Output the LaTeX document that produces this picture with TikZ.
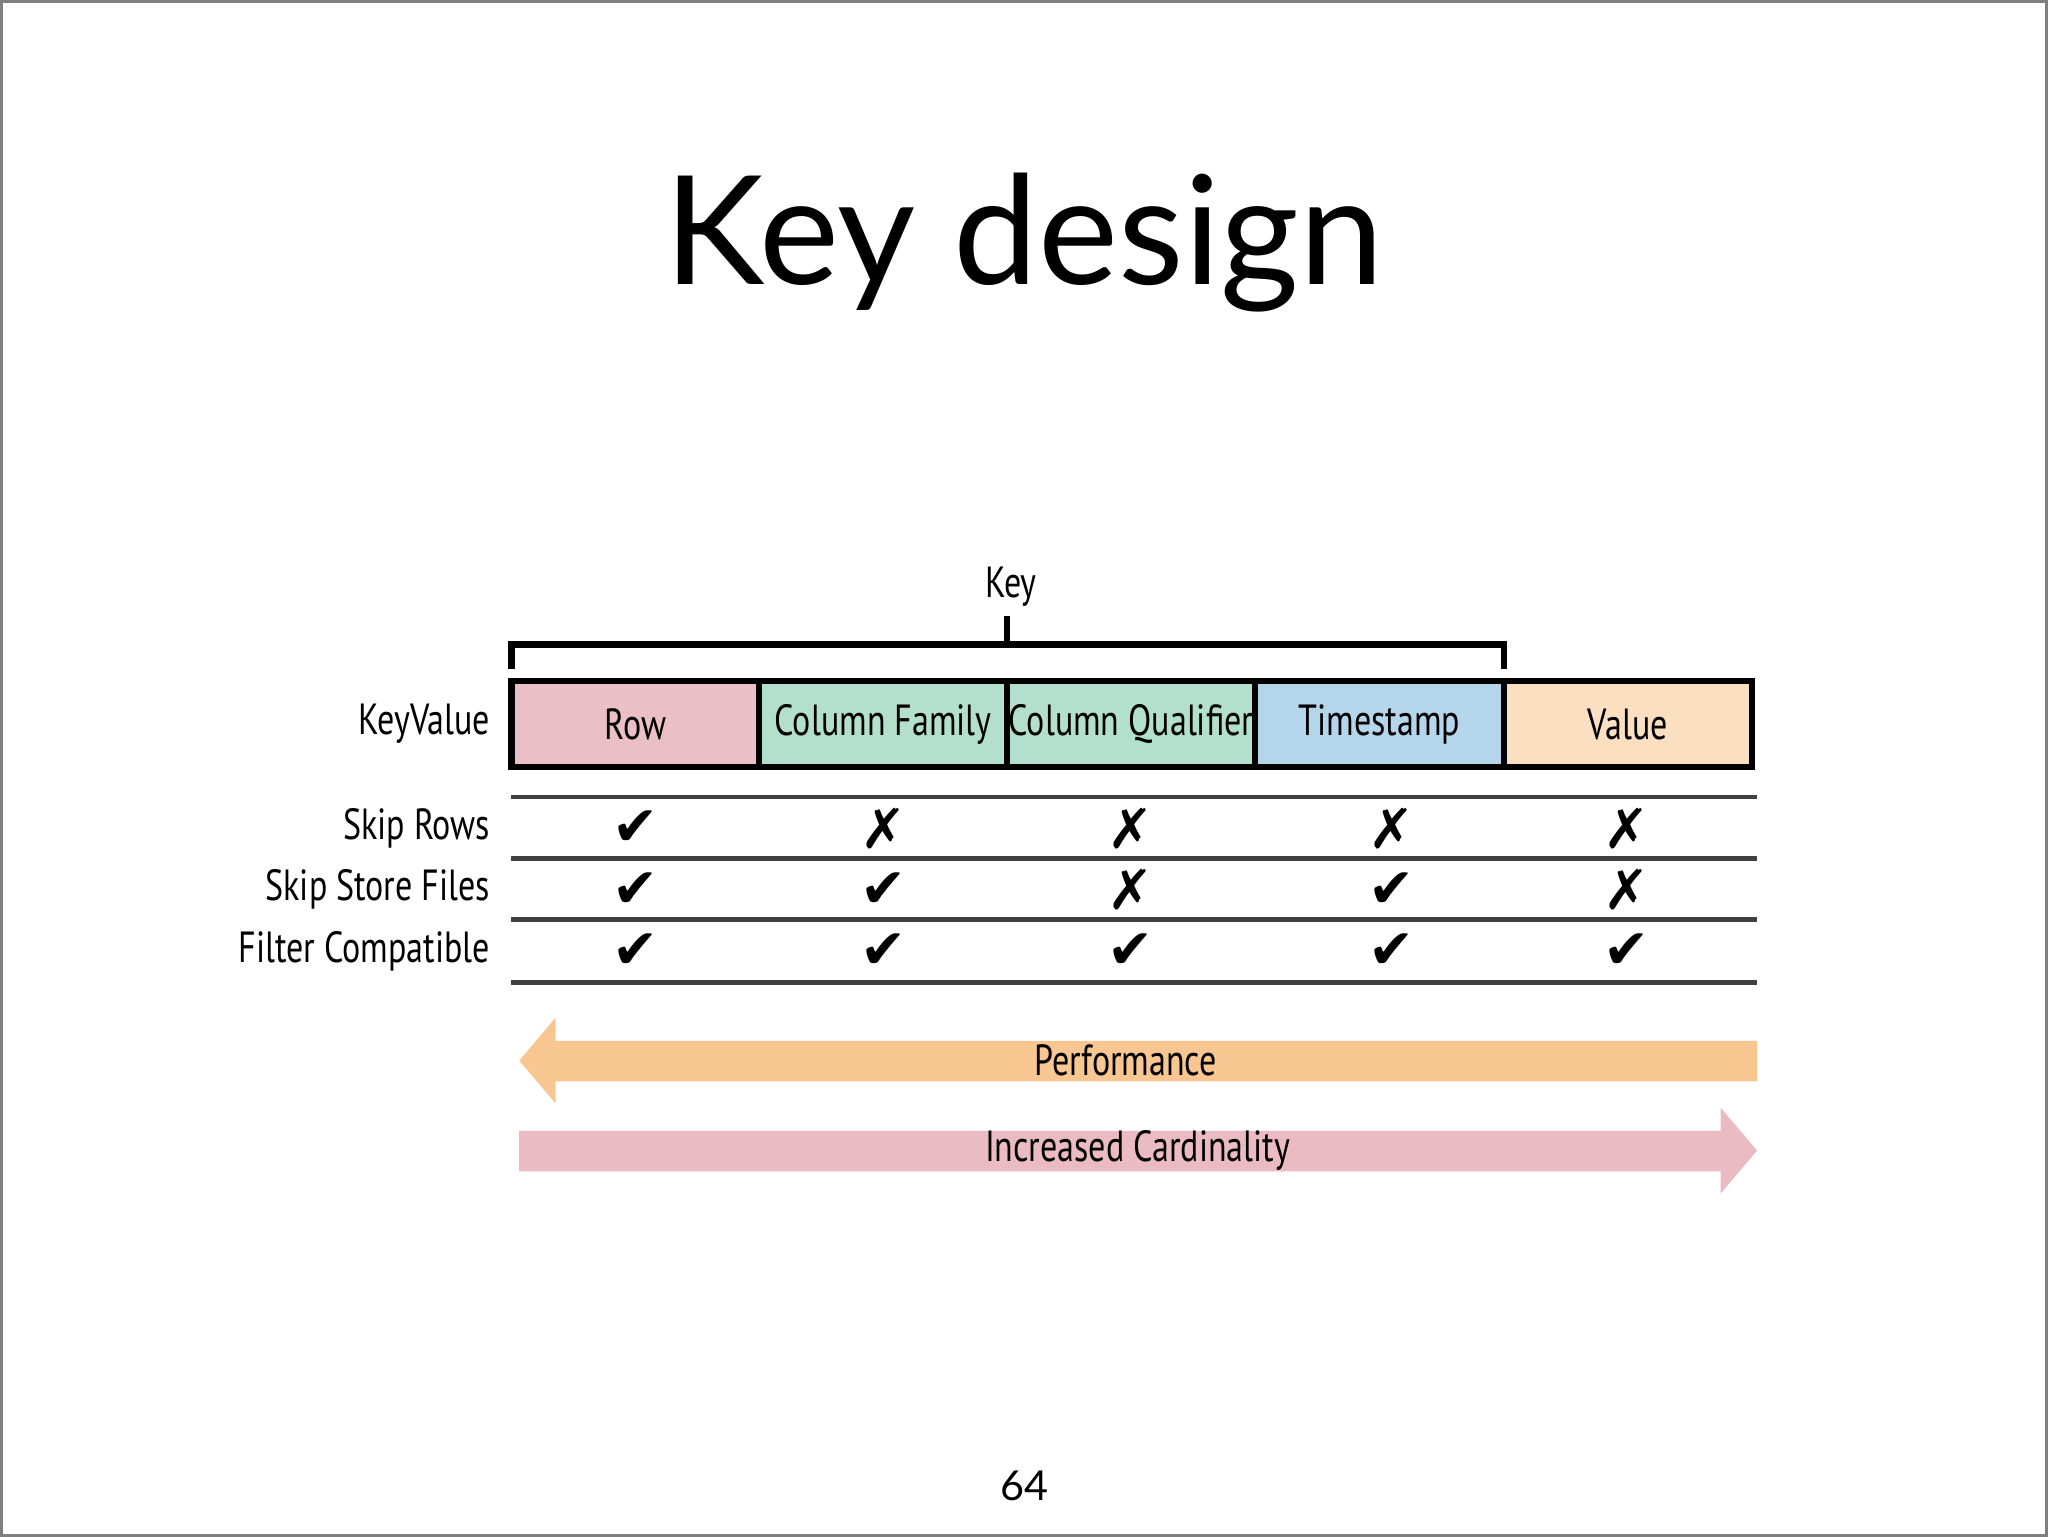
\documentclass[tikz,border=0pt]{standalone}
\usepackage{fontspec}
\setmainfont{Lato}
\newfontfamily\tbl[FakeStretch=0.78]{PT Sans}
\newfontfamily\sym{DejaVu Sans}
\definecolor{crow}{HTML}{EBBFC6}
\definecolor{cgreen}{HTML}{B3E0CC}
\definecolor{cblue}{HTML}{B5D5EA}
\definecolor{cval}{HTML}{FADFC0}
\definecolor{aor}{HTML}{F8C690}
\definecolor{apk}{HTML}{EBBBC3}
\begin{document}
\begin{tikzpicture}[x=0.01cm,y=-0.01cm,
  tf/.style={font=\tbl\fontsize{9.5}{11}\selectfont},
  lbl/.style={tf,anchor=east},
  mk/.style={font=\sym\bfseries\fontsize{12}{14}\selectfont},
  hl/.style={draw=black!75,line width=1pt}]
\path[use as bounding box,draw=gray,line width=0.6pt] (0,0) rectangle (1568,1176);
\node (title) at (784,185) {\fontsize{33}{36}\selectfont Key design};
\node (pg) at (784,1138) {\fontsize{9}{10}\selectfont 64};
% boxes
\foreach \n/\a/\b/\c/\t in {row/391/581/crow/Row, cf/581/771/cgreen/Column Family, cq/771/961/cgreen/Column Qualifier, ts/961/1152/cblue/Timestamp, val/1152/1342/cval/Value}{
  \draw[fill=\c,line width=1.4pt] (\a,521) rectangle (\b,587);
  \node[tf] (\n) at ({(\a+\b)/2},554) {\t};
}
\node[lbl] (kv) at (387,554) {KeyValue};
% brace
\coordinate (b1) at (391,512); \coordinate (b2) at (391,493); \coordinate (b3) at (1152,493); \coordinate (b4) at (1152,512);
\coordinate (bm) at (771,493); \coordinate (bt) at (771,471);
\draw[line width=1.4pt] (b1) -- (b2) -- (b3) -- (b4);
\draw[line width=1.4pt] (bm) -- (bt);
\node[tf] (key) at (774,449) {Key};
% lines
\foreach \y/\nm in {610/l1,657/l2,704/l3,752/l4}{
  \coordinate (\nm a) at (391,\y); \coordinate (\nm b) at (1346,\y);
  \draw[hl] (\nm a) -- (\nm b);}
\node[lbl] (r1) at (387,634) {Skip Rows};
\node[lbl] (r2) at (387,681) {Skip Store Files};
\node[lbl] (r3) at (387,728) {Filter Compatible};
\foreach \x/\s in {486/✔,676/✗,866/✗,1066/✗,1246/✗}{\node[mk] at (\x,634) {\s};}
\foreach \x/\s in {486/✔,676/✔,866/✗,1066/✔,1246/✗}{\node[mk] at (\x,681) {\s};}
\foreach \x/\s in {486/✔,676/✔,866/✔,1066/✔,1246/✔}{\node[mk] at (\x,728) {\s};}
% arrows
\fill[aor] (397,812) -- (425,779) -- (425,797) -- (1346,797) -- (1346,828) -- (425,828) -- (425,845) -- cycle;
\node[tf] (perf) at (862,812) {Performance};
\fill[apk] (1346,881) -- (1318,848) -- (1318,866) -- (397,866) -- (397,897) -- (1318,897) -- (1318,914) -- cycle;
\node[tf] (card) at (871,881) {Increased Cardinality};
\end{tikzpicture}
\end{document}
